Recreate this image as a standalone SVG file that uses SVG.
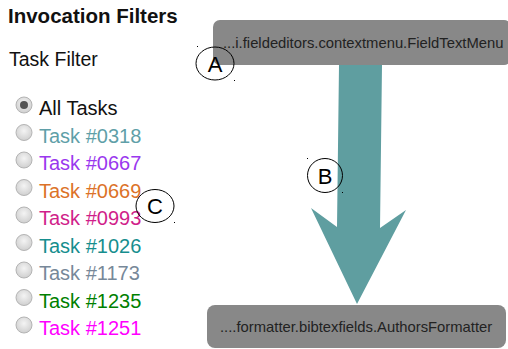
<svg xmlns="http://www.w3.org/2000/svg" width="508" height="349" viewBox="0 0 508 349">
<style>
text{font-family:"Liberation Sans",Arial,sans-serif}
.h{font-size:20.5px;font-weight:bold;fill:#111}
.t{font-size:20px}
.n{fill:#888;}
.nt{font-size:14.8px;fill:#222}
.lbl{fill:none;stroke:#000;stroke-width:1}
.lt{font-size:22px;fill:#000;text-anchor:middle}
.rb{fill:url(#rg);stroke:#b4b4b4;stroke-width:1}
</style>
<defs>
<radialGradient id="rg" cx="0.5" cy="0.4" r="0.6">
<stop offset="0" stop-color="#f4f4f4"/>
<stop offset="1" stop-color="#cfcfcf"/>
</radialGradient>
</defs>
<rect width="508" height="349" fill="#fff"/>
<g id="filters">
<text class="h" x="8" y="23">Invocation Filters</text>
<text class="t" x="9" y="66" fill="#111" style="font-size:19.5px">Task Filter</text>
<g id="radios">
<circle class="rb" cx="24" cy="105" r="8"/><circle cx="24" cy="105" r="4" fill="#555"/>
<text class="t" x="39" y="115" fill="#111">All Tasks</text>
<circle class="rb" cx="24" cy="132.5" r="8"/>
<text class="t" x="39" y="142.5" fill="#5f9fa8">Task #0318</text>
<circle class="rb" cx="24" cy="160" r="8"/>
<text class="t" x="39" y="170" fill="#9a38ee">Task #0667</text>
<circle class="rb" cx="24" cy="187.5" r="8"/>
<text class="t" x="39" y="197.5" fill="#dc7228">Task #0669</text>
<circle class="rb" cx="24" cy="215" r="8"/>
<text class="t" x="39" y="225" fill="#d01e8a">Task #0993</text>
<circle class="rb" cx="24" cy="242.5" r="8"/>
<text class="t" x="39" y="252.5" fill="#168e8e">Task #1026</text>
<circle class="rb" cx="24" cy="270" r="8"/>
<text class="t" x="39" y="280" fill="#778899">Task #1173</text>
<circle class="rb" cx="24" cy="297.5" r="8"/>
<text class="t" x="39" y="307.5" fill="#008000">Task #1235</text>
<circle class="rb" cx="24" cy="325" r="8"/>
<text class="t" x="39" y="335" fill="#ff00ff">Task #1251</text>
</g>
</g>
<g id="connectors">
<polygon points="339,65 382,65 380,228 406,210 357,304 311,208 337,227" fill="#5f9ea0"/>
</g>
<g id="node-top">
<rect class="n" x="213" y="20" width="298" height="45" rx="7"/>
<text class="nt" x="223" y="48">...i.fieldeditors.contextmenu.FieldTextMenu</text>
</g>
<g id="node-bottom">
<rect class="n" x="207" y="305" width="299" height="43" rx="8"/>
<text class="nt" x="220" y="332">....formatter.bibtexfields.AuthorsFormatter</text>
</g>
<g id="label-A">
<ellipse class="lbl" cx="215" cy="63.5" rx="19" ry="16.5"/>
<text class="lt" x="215" y="72">A</text>
<rect x="197" y="46" width="1" height="1" fill="#000"/><rect x="234" y="80" width="1" height="1" fill="#000"/>
</g>
<g id="label-B">
<ellipse class="lbl" cx="325" cy="175.5" rx="17.5" ry="17"/>
<text class="lt" x="325" y="184">B</text>
<rect x="307" y="158" width="1" height="1" fill="#000"/><rect x="342" y="192" width="1" height="1" fill="#000"/>
</g>
<g id="label-C">
<ellipse class="lbl" cx="155" cy="206" rx="19" ry="16.5"/>
<text class="lt" x="155" y="214">C</text>
<rect x="174" y="222" width="1" height="1" fill="#000"/>
</g>
</svg>
